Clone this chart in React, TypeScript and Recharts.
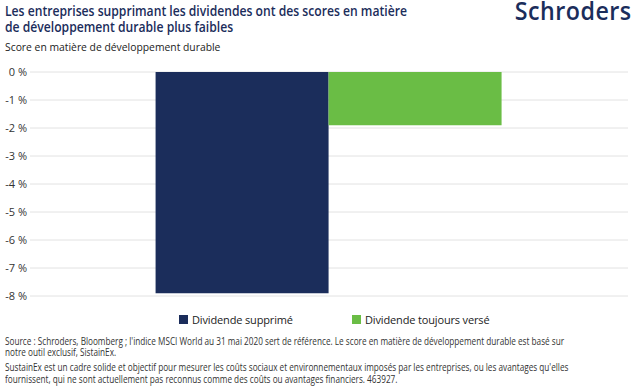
import React from "react"
import { Bar, BarChart, CartesianGrid, Legend, XAxis, YAxis } from "recharts"

// values (score in %)
const categories = ["Score"]
const supprime = [-7.9]
const verse = [-1.9]
const yTicks = [0, -1, -2, -3, -4, -5, -6, -7, -8]

const navy = "#1b2d5b"
const green = "#6abd45"

const seriesNames = { supprime: "Dividende supprimé", verse: "Dividende toujours versé" }

const data = categories.map((c, i) => ({ name: c, supprime: supprime[i], verse: verse[i] }))

const footnotes = [
  "Source : Schroders, Bloomberg ; l'indice MSCI World au 31 mai 2020 sert de référence. Le score en matière de développement durable est basé sur",
  "notre outil exclusif, SistainEx.",
  "SustainEx est un cadre solide et objectif pour mesurer les coûts sociaux et environnementaux imposés par les entreprises, ou les avantages qu'elles",
  "fournissent, qui ne sont actuellement pas reconnus comme des coûts ou avantages financiers. 463927.",
]
const footTops = [336, 347, 362, 374]
const legendLefts = [179, 352]

const font = "'Open Sans', sans-serif"

function LegendBox({ payload }: any) {
  return (
    <div style={{ position: "relative", height: 16, fontFamily: font, fontSize: 11, color: "#222" }}>
      {(payload || []).map((p: any, i: number) => (
        <div
          key={p.value}
          style={{ position: "absolute", left: legendLefts[i], top: 0, display: "flex", alignItems: "center", whiteSpace: "nowrap" }}
        >
          <span style={{ width: 9, height: 9, background: p.color, display: "inline-block", marginRight: 4 }} />
          <span style={{ letterSpacing: -0.15 }}>{p.value}</span>
        </div>
      ))}
    </div>
  )
}

function YTick({ x, y, payload }: any) {
  return (
    <text x={x} y={y} dy={4} textAnchor="end" fontSize={11} fill="#333" fontFamily={font}>
      {`${payload.value} %`}
    </text>
  )
}

export default function App() {
  return (
    <div style={{ position: "absolute", left: 0, top: 0, width: 636, height: 390, background: "#fff", fontFamily: font, overflow: "hidden" }}>
      <div
        style={{
          position: "absolute", left: 5, top: 3, fontSize: 13.5, fontWeight: 600, color: navy, lineHeight: "16px",
          whiteSpace: "nowrap", transform: "scaleX(0.9)", transformOrigin: "left top",
        }}
      >
        Les entreprises supprimant les dividendes ont des scores en matière
        <br />
        de développement durable plus faibles
      </div>
      <div
        style={{
          position: "absolute", right: 4, top: -2, fontSize: 25, lineHeight: "25px", fontWeight: 600, color: navy,
          letterSpacing: 0.5, whiteSpace: "nowrap", transform: "scaleX(0.93)", transformOrigin: "right top",
        }}
      >
        Schroders
      </div>
      <div
        style={{
          position: "absolute", left: 5, top: 39, fontSize: 11.5, color: "#222", whiteSpace: "nowrap",
          transform: "scaleX(0.9)", transformOrigin: "left top",
        }}
      >
        Score en matière de développement durable
      </div>
      <div style={{ position: "absolute", left: 0, top: 0 }}>
        <BarChart
          width={636}
          height={330}
          data={data}
          margin={{ top: 72, right: 8, bottom: 14, left: 0 }}
          barCategoryGap="21%"
          barGap={0}
        >
          <CartesianGrid horizontal vertical={false} stroke="#e2e2e2" />
          <XAxis dataKey="name" hide />
          <YAxis
            width={30}
            domain={[-8, 0]}
            ticks={yTicks}
            interval={0}
            axisLine={false}
            tickLine={false}
            tickSize={0}
            tickMargin={3}
            tick={<YTick />}
          />
          <Legend
            verticalAlign="bottom"
            height={20}
            wrapperStyle={{ left: 0, top: 312, width: 636 }}
            content={<LegendBox />}
          />
          <Bar dataKey="supprime" name={seriesNames.supprime} fill={navy} isAnimationActive={false} />
          <Bar dataKey="verse" name={seriesNames.verse} fill={green} isAnimationActive={false} />
        </BarChart>
      </div>
      {footnotes.map((t, i) => (
        <div
          key={i}
          style={{
            position: "absolute", left: 5, top: footTops[i], fontSize: 10, lineHeight: "11px", color: "#333",
            whiteSpace: "nowrap", transform: "scaleX(0.82)", transformOrigin: "left top",
          }}
        >
          {t}
        </div>
      ))}
    </div>
  )
}
